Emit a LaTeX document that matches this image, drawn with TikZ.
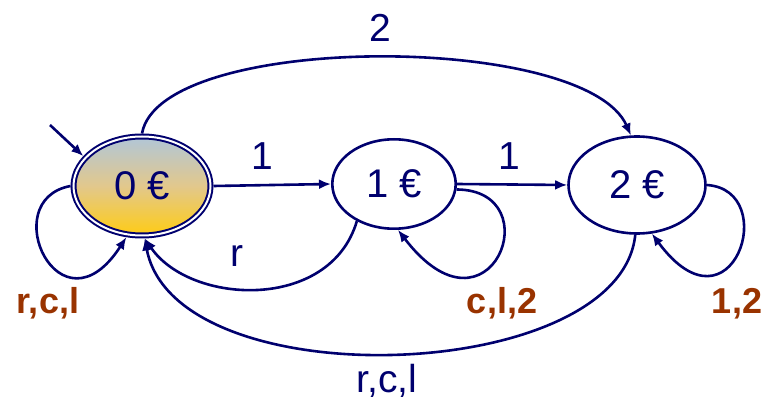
\documentclass[tikz,border=0pt]{standalone}
\usepackage{fontspec}
\setmainfont{Liberation Sans}
\usetikzlibrary{shapes.geometric,arrows.meta}
\definecolor{navy}{RGB}{0,0,110}
\definecolor{rust}{RGB}{153,51,0}
\definecolor{steel}{RGB}{176,198,216}
\definecolor{tan}{RGB}{226,200,140}
\definecolor{gold}{RGB}{255,204,20}
\begin{document}
\begin{tikzpicture}[x=0.5pt,y=-0.5pt,
  state/.style={ellipse,draw=navy,line width=1.3pt,inner sep=0pt,text=navy,
    font=\fontsize{20}{22}\selectfont},
  edge/.style={draw=navy,line width=1.3pt,-{Latex[length=6pt,width=5pt]}},
  lbl/.style={text=navy,anchor=base,inner sep=0pt,font=\fontsize{19.5}{22}\selectfont},
  blbl/.style={text=rust,anchor=base,inner sep=0pt,font=\bfseries\fontsize{18}{21}\selectfont}]
\useasboundingbox (0,0) rectangle (769,400);

\node[state,line width=1pt,double=white,double distance=1pt,outer sep=1.5pt,
  top color=steel,bottom color=gold,middle color=tan,
  minimum width=68.5pt,minimum height=49.5pt] (s0) at (142,186) {0 €};
\node[state,minimum width=61.7pt,minimum height=44.7pt] (s1) at (394,184) {1 €};
\node[state,minimum width=68.5pt,minimum height=48.5pt] (s2) at (637,185) {2 €};

\coordinate (init) at (50,125);
\draw[edge] (init) -- (s0.153);

\draw[edge] (s0.east) -- (s1.west);
\draw[edge] (s1.east) -- (s2.west);

\draw[edge] (s0.90) .. controls (160,32) and (585,32) .. (s2.97);

\draw[edge] (s1.225) .. controls (330,312) and (190,305) .. (s0.273);
\draw[edge] (s2.268) .. controls (620,385) and (175,400) .. (s0.273);

\draw[edge] (s0.180) .. controls (-5,200) and (60,340) .. (s0.253);
\draw[edge] (s1.355) .. controls (552,190) and (490,350) .. (s1.275);
\draw[edge] (s2.0) .. controls (782,190) and (732,342) .. (s2.287);

\node[lbl] (l2) at (380,42) {2};
\node[lbl] (l01) at (262,170) {1};
\node[lbl] (l12) at (509,170) {1};
\node[lbl] (lr) at (237,266) {r};
\node[lbl] (lrcl) at (387,392) {r,c,l};
\node[blbl] (b0) at (48,313) {r,c,l};
\node[blbl] (b1) at (502,314) {c,l,2};
\node[blbl] (b2) at (737,313) {1,2};
\end{tikzpicture}
\end{document}
